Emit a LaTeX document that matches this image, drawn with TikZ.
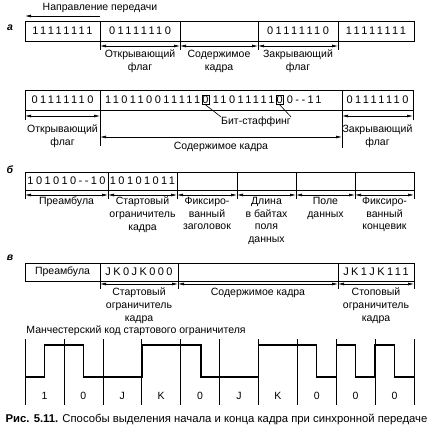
\documentclass[tikz,border=0pt]{standalone}
\usepackage{fontspec}
\setmainfont{Liberation Sans}
\newfontfamily\bitfont[LetterSpace=22]{Liberation Sans}
\usetikzlibrary{positioning, arrows.meta}

\begin{document}
\begin{tikzpicture}[
        x=1pt, y=-1pt,
        cell/.style={draw, line width=0.9pt, outer sep=0pt, inner sep=0pt, minimum height=20pt,
          font=\bitfont\fontsize{11}{12}\selectfont},
        lowcell/.style={cell, minimum height=18pt},
        bits/.style={inner sep=0pt, font=\bitfont\fontsize{11}{12}\selectfont},
        stuffed/.style={draw, line width=0.7pt, inner sep=0.6pt, font=\fontsize{11}{12}\selectfont},
        dim/.style={{Latex[length=6pt,width=3pt]}-{Latex[length=6pt,width=3pt]}, line width=0.7pt},
        tick/.style={line width=0.6pt},
        lbl/.style={align=center, inner sep=0pt, font=\fontsize{10.5}{12.6}\selectfont},
        part/.style={font=\bfseries\itshape\fontsize{10.5}{12}\selectfont},
        wave/.style={line width=1.3pt}
      ]
      \useasboundingbox (0,0) rectangle (431,431);

      % a
      \node[lbl] (dir) at (100,8) {Направление передачи};
      \coordinate (dirS) at (100,16);
      \coordinate (dirE) at (25,16);
      \draw[-{Latex[length=6pt,width=3pt]}, line width=0.7pt] (dirS) -- (dirE);
      \node[part] (pa) at (10,28) {а};
      \node[cell, minimum width=75pt] (a1) at (62.5,31) {11111111};
      \node[cell, minimum width=80pt, right=0pt of a1] (a2) {01111110};
      \node[cell, minimum width=78pt, right=0pt of a2] (a3) {};
      \node[cell, minimum width=80pt, right=0pt of a3] (a4) {01111110};
      \node[cell, minimum width=76pt, right=0pt of a4] (a5) {11111111};
      \foreach \n in {a1,a2,a3,a4}
        \draw[tick] (\n.south east) -- ++(0,9);
      \foreach \n in {a2,a3,a4}
        \draw[dim] ([yshift=-5pt]\n.south west) -- ([yshift=-5pt]\n.south east);
      \node[lbl, below=9pt of a2] (fa2) {Открывающий\\флаг};
      \node[lbl, below=9pt of a3] (fa3) {Содержимое\\кадра};
      \node[lbl, below=9pt of a4] (fa4) {Закрывающий\\флаг};

      \node[cell, minimum width=75pt] (b1) at (62.5,100) {01111110};
      \node[cell, minimum width=242pt, right=0pt of b1] (b2) {};
      \node[cell, minimum width=71pt, right=0pt of b2] (b3) {01111110};
      \node[bits, anchor=west] (s1) at ([xshift=5pt]b2.west) {110110011111};
      \node[stuffed, right=1pt of s1] (z1) {0};
      \node[bits, right=3pt of z1] (s2) {11011111};
      \node[stuffed, right=1pt of s2] (z2) {0};
      \node[bits, right=3pt of z2] (s3) {0-{}-11};
      \node[lbl] (stuff) at (256,122) {Бит-стаффинг};
      \draw[line width=0.6pt] (z1.south) -- (stuff.north west);
      \draw[line width=0.6pt] (z2.south) -- (stuff.north east);
      \draw[tick] (b1.south west) -- ++(0,10);
      \draw[tick] (b1.south east) -- ++(0,36);
      \draw[tick] (b3.south west) -- ++(0,38);
      \draw[tick] (b3.south east) -- ++(0,10);
      \draw[dim] ([yshift=-6pt]b1.south west) -- ([yshift=-6pt]b1.south east);
      \draw[dim] ([yshift=-6pt]b3.south west) -- ([yshift=-6pt]b3.south east);
      \draw[dim] ([yshift=-27pt]b2.south west) -- ([yshift=-27pt]b2.south east);
      \node[lbl, below=15pt of b1] (fb1) {Открывающий\\флаг};
      \node[lbl, below=15pt of b3] (fb3) {Закрывающий\\флаг};
      \node[lbl, below=32pt of b2] (fb2) {Содержимое кадра};

      % b
      \node[part] (pb) at (10,170) {б};
      \node[lowcell, minimum width=83pt] (c1) at (66.5,181) {101010-{}-10};
      \node[lowcell, minimum width=69pt, right=0pt of c1] (c2) {10101011};
      \node[lowcell, minimum width=60pt, right=0pt of c2] (c3) {};
      \node[lowcell, minimum width=59pt, right=0pt of c3] (c4) {};
      \node[lowcell, minimum width=59pt, right=0pt of c4] (c5) {};
      \node[lowcell, minimum width=59pt, right=0pt of c5] (c6) {};
      \draw[tick] (c1.south west) -- ++(0,9);
      \foreach \n in {c1,c2,c3,c4,c5,c6} {
        \draw[tick] (\n.south east) -- ++(0,9);
        \draw[dim] ([yshift=-5pt]\n.south west) -- ([yshift=-5pt]\n.south east);
      }
      \node[lbl, below=7pt of c1] (fc1) {Преамбула};
      \node[lbl, below=7pt of c2] (fc2) {Стартовый\\ограничитель\\кадра};
      \node[lbl, below=7pt of c3] (fc3) {Фиксиро-\\ванный\\заголовок};
      \node[lbl, below=7pt of c4] (fc4) {Длина\\в байтах\\поля\\данных};
      \node[lbl, below=7pt of c5] (fc5) {Поле\\данных};
      \node[lbl, below=7pt of c6] (fc6) {Фиксиро-\\ванный\\концевик};

      % c
      \node[part] (pc) at (10,258) {в};
      \node[lowcell, minimum width=75pt, font=\fontsize{10.5}{12}\selectfont] (d1) at (62.5,272) {Преамбула};
      \node[lowcell, minimum width=78pt, right=0pt of d1] (d2) {JK0JK000};
      \node[lowcell, minimum width=160pt, right=0pt of d2] (d3) {};
      \node[lowcell, minimum width=76pt, right=0pt of d3] (d4) {JK1JK111};
      \foreach \n in {d1,d2,d3,d4}
        \draw[tick] (\n.south east) -- ++(0,8);
      \foreach \n in {d2,d3,d4}
        \draw[dim] ([yshift=-3pt]\n.south west) -- ([yshift=-3pt]\n.south east);
      \node[lbl, below=7pt of d2] (fd2) {Стартовый\\ограничитель\\кадра};
      \node[lbl, below=7pt of d3] (fd3) {Содержимое кадра};
      \node[lbl, below=7pt of d4] (fd4) {Стоповый\\ограничитель\\кадра};

      \node[lbl] (man) at (136,331) {Манчестерский код стартового ограничителя};
      \foreach \i in {0,...,10}
        \draw[tick] (25+38.9*\i,339) -- (25+38.9*\i,405);
      \foreach \s [count=\i] in {1,0,J,K,0,J,K,0,0,0}
        \node[lbl] (sym\i) at (25+38.9*\i-19.45,396) {\s};
      \draw[wave] (25,377) -- (44.45,377) -- (44.45,345) -- (83.35,345) -- (83.35,377)
        -- (142.6,377) -- (142.6,345) -- (200.95,345) -- (200.95,377)
        -- (258.4,377) -- (258.4,345) -- (316.75,345) -- (316.75,377)
        -- (336.2,377) -- (336.2,345) -- (355.65,345) -- (355.65,377)
        -- (375.1,377) -- (375.1,345) -- (394.55,345) -- (394.55,377) -- (414,377);

      \node[inner sep=0pt, font=\fontsize{11.3}{12}\selectfont] (caption) at (216.5,419)
        {\textbf{Рис. 5.11.} Способы выделения начала и конца кадра при синхронной передаче};
    \end{tikzpicture}
\end{document}
